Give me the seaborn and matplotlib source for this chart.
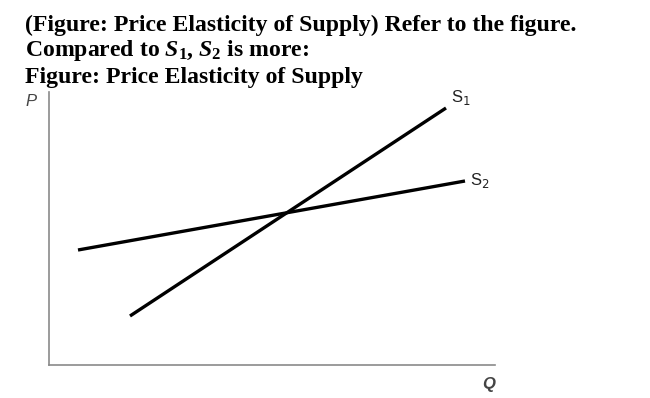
import matplotlib
matplotlib.use("Agg")
import matplotlib.pyplot as plt
import seaborn as sns
import pandas as pd

# Data (arbitrary units)
s1_q = [81, 397]
s1_p = [49, 257]
s2_q = [29, 416]
s2_p = [115, 184]
curve_labels = ["S$_1$", "S$_2$"]
title_lines = [
    "(Figure: Price Elasticity of Supply) Refer to the figure.",
    "Compared to $S_1$, $S_2$ is more:",
    "Figure: Price Elasticity of Supply",
]

sns.set_style("white")
plt.rcParams["mathtext.fontset"] = "custom"
plt.rcParams["mathtext.rm"] = "Liberation Serif:bold"
plt.rcParams["mathtext.it"] = "Liberation Serif:italic:bold"
plt.rcParams["mathtext.bf"] = "Liberation Serif:bold"

W, H = 650, 398
fig = plt.figure(figsize=(W / 100, H / 100), dpi=100)
ax = fig.add_axes([49 / W, 1 - 365 / H, (495 - 49) / W, (365 - 92) / H])

df = pd.concat([
    pd.DataFrame({"Q": s1_q, "P": s1_p, "curve": "S1"}),
    pd.DataFrame({"Q": s2_q, "P": s2_p, "curve": "S2"}),
])
sns.lineplot(data=df, x="Q", y="P", hue="curve", palette=["black", "black"],
             linewidth=2.4, legend=False, ax=ax, solid_capstyle="butt")
ax.set_xlim(0, 446)
ax.set_ylim(0, 273)
ax.set_xticks([])
ax.set_yticks([])
ax.set_xlabel("")
ax.set_ylabel("")
for s in ["top", "right"]:
    ax.spines[s].set_visible(False)
for s in ["left", "bottom"]:
    ax.spines[s].set_color("#8a8a8a")
    ax.spines[s].set_linewidth(1.2)

# curve labels
ax.text(s1_q[1] + 5, s1_p[1] + 1, curve_labels[0], fontsize=12, family="Liberation Sans",
        color="#222222", ha="left", va="bottom", math_fontfamily="dejavusans")
ax.text(s2_q[1] + 5, s2_p[1] + 1, curve_labels[1], fontsize=12, family="Liberation Sans",
        color="#222222", ha="left", va="center", math_fontfamily="dejavusans")

# axis letters
fig.text(31 / W, 1 - 102 / H, "P", fontsize=12, family="Liberation Sans", style="italic",
         color="#444444", ha="center", va="center")
fig.text(489 / W, 1 - 384 / H, "Q", fontsize=12, family="Liberation Sans", style="italic",
         weight="bold", color="#444444", ha="center", va="center")

# title lines
baselines = [30.5, 56, 82.5]
for line, yb in zip(title_lines, baselines):
    fig.text(25 / W, 1 - yb / H, line, fontsize=17.1, family="Liberation Serif",
             weight="bold", color="black", ha="left", va="baseline")

fig.savefig("out.png", dpi=100)
